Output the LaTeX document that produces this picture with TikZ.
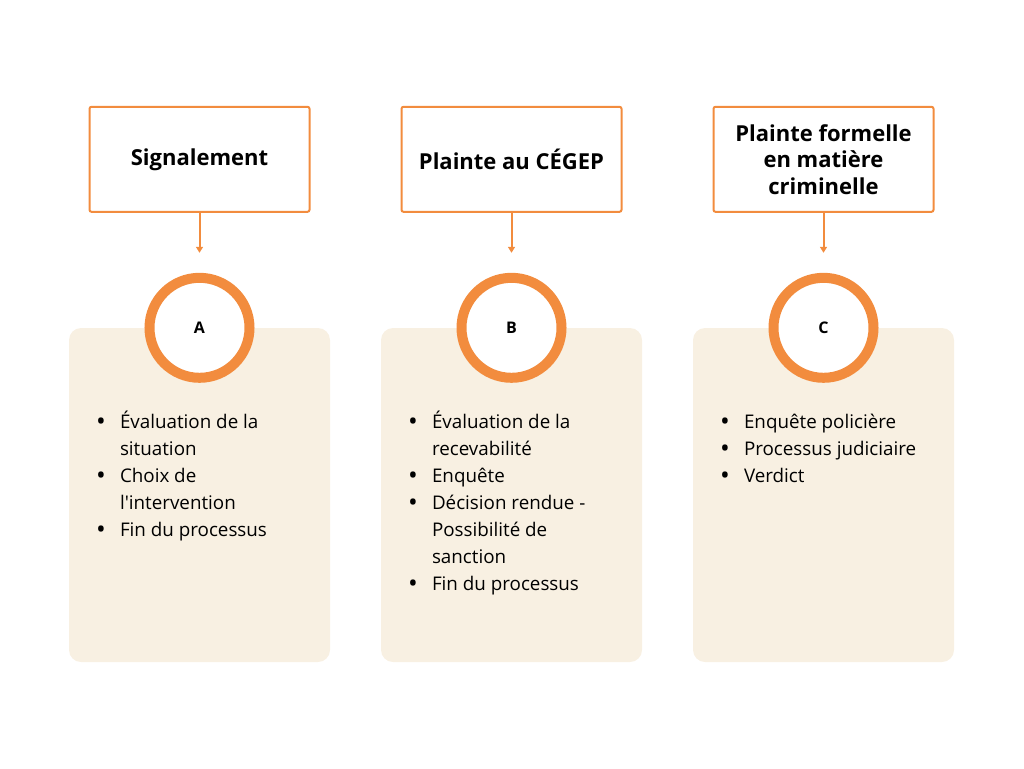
\documentclass[tikz,border=0pt]{standalone}
\usepackage{fontspec}
\newfontfamily\police{Open Sans}
\usetikzlibrary{positioning, arrows.meta}
\definecolor{orangeA}{HTML}{F28C3E}
\definecolor{creme}{HTML}{F8F0E2}
\tikzstyle{etape}=[rectangle, draw=orangeA, line width=2pt, rounded corners=2pt, minimum width=220pt, minimum height=105pt, align=center, font=\police\bfseries\fontsize{22}{26.5}\selectfont]
\tikzstyle{lettre}=[circle, draw=orangeA, line width=10pt, fill=white, minimum size=100pt, inner sep=0pt, font=\police\bfseries\fontsize{16}{19}\selectfont]
\tikzstyle{panneau}=[rectangle, rounded corners=12pt, fill=creme, minimum width=261pt, minimum height=334pt]
\tikzstyle{liste}=[anchor=north west, inner sep=0pt, align=left, font=\police\fontsize{18.8}{27}\selectfont]
\tikzstyle{lien}=[draw=orangeA, line width=2pt, -{Triangle[length=6pt,width=7pt]}, shorten >=20pt]
\newcommand{\puce}{\makebox[24pt][l]{\raisebox{-2pt}{\fontsize{26}{27}\selectfont\textbullet}}}
\newcommand{\suite}{\hspace*{24pt}}

\begin{document}
\begin{tikzpicture}[x=1pt, y=-1pt, node distance=60pt]
                \useasboundingbox (0,0) rectangle (1024,768);
                % Panneaux
                \node[panneau] (panA) at (199.5,495) {};
                \node[panneau] (panB) at (511.5,495) {};
                \node[panneau] (panC) at (823.5,495) {};

                % Cercles
                \node[lettre] (A) at (panA.north) {A};
                \node[lettre] (B) at (panB.north) {B};
                \node[lettre] (C) at (panC.north) {C};

                % Etapes
                \node[etape, above=of A] (sig) {Signalement};
                \node[etape, above=of B] (cegep) {Plainte au CÉGEP};
                \node[etape, above=of C] (crim) {Plainte formelle\\en matière\\criminelle};
                \draw[lien] (sig) -- (A);
                \draw[lien] (cegep) -- (B);
                \draw[lien] (crim) -- (C);

                % Listes
                \node[liste] at ([xshift=27pt, yshift=-82pt]panA.north west) {\strut\puce Évaluation de la\\ \suite situation\\ \puce Choix de\\ \suite l'intervention\\ \puce Fin du processus};
                \node[liste] at ([xshift=27pt, yshift=-82pt]panB.north west) {\strut\puce Évaluation de la\\ \suite recevabilité\\ \puce Enquête\\ \puce Décision rendue -\\ \suite Possibilité de\\ \suite sanction\\ \puce Fin du processus};
                \node[liste] at ([xshift=27pt, yshift=-82pt]panC.north west) {\strut\puce Enquête policière\\ \puce Processus judiciaire\\ \puce Verdict};
            \end{tikzpicture}
\end{document}
